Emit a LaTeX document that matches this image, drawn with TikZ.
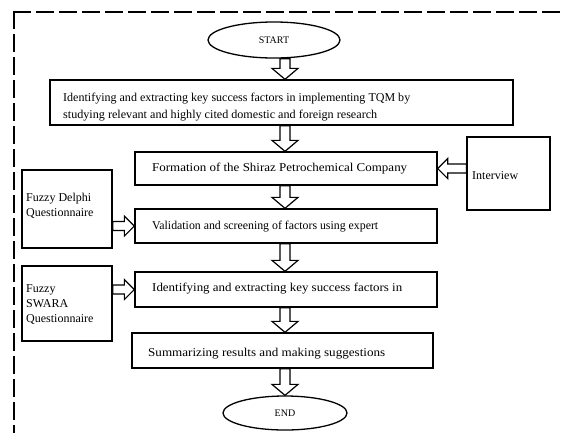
\documentclass[tikz,border=0pt]{standalone}
\usepackage{fontspec}
\setmainfont{Liberation Serif}
\usepackage{graphicx}
\usetikzlibrary{calc,shapes.geometric}
\pgfdeclarelayer{bg}
\pgfsetlayers{bg,main}
\tikzset{
  boxr/.style={draw, line width=1.3pt, rectangle, inner sep=0pt},
  ell/.style={draw, ellipse, line width=1.3pt, inner sep=0pt, font=\fontsize{10}{12}\selectfont},
  txt/.style={inner sep=0pt, anchor=base west, font=\fontsize{12}{15}\selectfont},
  frameline/.style={line width=1.8pt, dash pattern=on 16pt off 7pt, line cap=rect},
  arrowbody/.style={draw, fill=white, line width=1.2pt, line join=miter},
}
\newcommand\blockarrow[5]{%
  \path (#1) coordinate (ba-s) (#2) coordinate (ba-e);
  \path ($(ba-e)!#5!(ba-s)$) coordinate (ba-h);
  \draw[arrowbody] ($(ba-s)!#3!90:(ba-e)$) -- ($(ba-h)!#3!-90:(ba-s)$) -- ($(ba-h)!#4!-90:(ba-s)$) -- (ba-e) -- ($(ba-h)!#4!90:(ba-s)$) -- ($(ba-h)!#3!90:(ba-s)$) -- ($(ba-s)!#3!-90:(ba-e)$) -- cycle;
}
\newcommand\fitline[2]{\resizebox{#1pt}{\height}{#2}}
\begin{document}
\begin{tikzpicture}[x=1pt,y=-1pt]
\useasboundingbox (0,0) rectangle (564,432);
% dashed frame
\coordinate (fc) at (14,12);
\coordinate (fr) at (570,12);
\coordinate (fb) at (14,440);
\draw[frameline] (fc) -- (fr);
\draw[frameline] (fc) -- (fb);
% nodes
\node[ell, minimum width=132pt, minimum height=36pt] (start) at (274,40) {START};
\node[boxr, minimum width=463pt, minimum height=45pt] (b1) at (281.5,102.5) {};
\node[boxr, minimum width=302pt, minimum height=33pt] (b2) at (286,168.5) {};
\node[boxr, minimum width=83pt, minimum height=73pt] (iv) at (508.5,173.5) {};
\node[boxr, minimum width=302pt, minimum height=34pt] (b3) at (286,226) {};
\node[boxr, minimum width=90pt, minimum height=78pt] (dl) at (67,209) {};
\node[boxr, minimum width=302pt, minimum height=35pt] (b4) at (286,289.5) {};
\node[boxr, minimum width=90pt, minimum height=75pt] (sw) at (67,303.5) {};
\node[boxr, minimum width=301pt, minimum height=35pt] (b5) at (282.5,350.5) {};
\node[ell, minimum width=124pt, minimum height=34pt] (end) at (285,413) {END};
% texts
\node[txt] (t1a) at (63,101) {\fitline{347}{Identifying and extracting key success factors in implementing TQM by}};
\begin{scope}
  \clip (b1.north west) rectangle ([yshift=5.5pt]b1.south east);
  \node[txt] (t1b) at (63,118) {\fitline{314}{studying relevant and highly cited domestic and foreign research}};
\end{scope}
\node[txt] (t2) at (152,171) {\fitline{255}{Formation of the Shiraz Petrochemical Company}};
\node[txt] (t3) at (152,229) {\fitline{226}{Validation and screening of factors using expert}};
\node[txt] (t4) at (152,291) {\fitline{250}{Identifying and extracting key success factors in}};
\node[txt] (t5) at (148,356) {\fitline{237}{Summarizing results and making suggestions}};
\node[txt] (tiv) at (472,179) {Interview};
\node[txt, align=left] (tdl) at (26,216) {Fuzzy Delphi\\Questionnaire};
\node[txt, align=left] (tsw) at (26,322) {Fuzzy\\SWARA\\Questionnaire};
% block arrows
\coordinate (ax) at (285,0);
\begin{pgfonlayer}{bg}
\blockarrow{start.south -| ax}{b1.north -| ax}{5pt}{13pt}{11pt}
\blockarrow{b1.south -| ax}{b2.north -| ax}{5pt}{13pt}{11pt}
\blockarrow{b2.south -| ax}{b3.north -| ax}{5pt}{13pt}{11pt}
\blockarrow{b3.south -| ax}{b4.north -| ax}{5pt}{13pt}{11pt}
\blockarrow{b4.south -| ax}{b5.north -| ax}{5pt}{13pt}{11pt}
\blockarrow{b5.south -| ax}{end.north -| ax}{5pt}{13pt}{11pt}
\blockarrow{dl.east |- b3.west}{b3.west}{4.5pt}{10pt}{10pt}
\blockarrow{sw.east |- b4.west}{b4.west}{4.5pt}{10pt}{10pt}
\blockarrow{iv.west |- b2.east}{b2.east}{4.5pt}{10pt}{10pt}
\end{pgfonlayer}
\end{tikzpicture}
\end{document}
